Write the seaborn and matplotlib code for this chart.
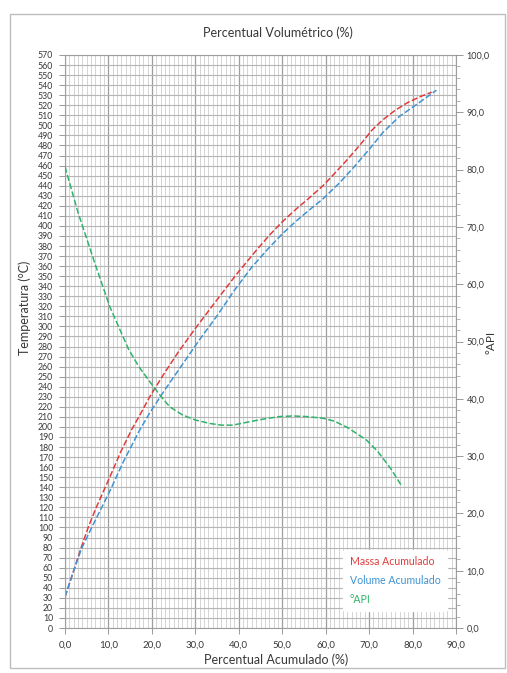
import matplotlib
matplotlib.use("Agg")
import matplotlib.pyplot as plt
import matplotlib.ticker as mticker
from matplotlib.patches import Rectangle
import seaborn as sns

# ── 資料 ──────────────────────────────────────────────────────────────────────
massa_pct = [0.0, 2.0, 3.8, 5.5, 7.3, 10.3, 12.8, 15.3, 17.5, 19.5, 22.5, 26.0, 30.0,
             34.9, 39.5, 44.1, 47.1, 50.0, 53.0, 56.0, 59.4, 62.0, 65.0, 68.0, 70.6,
             73.0, 76.0, 79.0, 82.0, 84.4]
massa_temp = [31, 57, 81, 102, 121, 150, 175, 197, 214, 230, 251, 274, 298,
              326, 352, 376, 391, 404, 416, 427, 440, 452, 466, 481, 495,
              505, 515, 523, 529, 533]

volume_pct = [0.0, 2.0, 3.8, 6.5, 10.3, 13.5, 17.2, 19.5, 23.0, 27.0, 31.0, 34.9,
              39.0, 43.0, 46.7, 50.0, 53.0, 56.0, 59.4, 63.0, 66.0, 70.0, 73.2,
              77.0, 81.0, 85.5]
volume_temp = [31, 57, 79, 103, 136, 166, 197, 214, 237, 262, 287, 310,
               336, 359, 377, 392, 404, 415, 427, 442, 456, 476, 493,
               509, 521, 535]

api_pct = [0.0, 3.0, 6.9, 10.3, 12.5, 14.6, 17.0, 19.5, 22.0, 24.1, 27.0, 30.0, 33.3,
           36.0, 38.6, 42.5, 46.0, 49.4, 52.5, 55.6, 59.4, 62.0, 65.0, 67.0, 69.4,
           72.0, 75.0, 77.4]
api_val = [80.5, 72.5, 63.6, 56.1, 52.3, 48.7, 45.6, 43.0, 40.5, 38.6, 37.2, 36.3, 35.7,
           35.4, 35.4, 36.0, 36.5, 36.9, 37.0, 36.9, 36.6, 36.1, 35.0, 34.0, 32.8,
           30.8, 27.8, 24.9]

RED = "#e03c3c"
BLUE = "#3f93d2"
GREEN = "#2fb36a"
TXT = "#383838"

sns.set_theme(style="white")
plt.rcParams["font.family"] = ["Lato", "DejaVu Sans"]

fig = plt.figure(figsize=(5.07, 6.73), dpi=100)
ax = fig.add_axes([65 / 507, 1 - 628 / 673, 391 / 507, 573 / 673])

# 外框
fig.patches.append(Rectangle((10 / 507, 1 - 668 / 673), 495 / 507, 654 / 673,
                             transform=fig.transFigure, fill=False,
                             edgecolor="#bdbdbd", linewidth=1.0))

dash = (4, 1.6)
sns.lineplot(x=massa_pct, y=massa_temp, sort=False, estimator=None, ax=ax,
             color=RED, linewidth=1.1, label="Massa Acumulado")
sns.lineplot(x=volume_pct, y=volume_temp, sort=False, estimator=None, ax=ax,
             color=BLUE, linewidth=1.1, label="Volume Acumulado")
for ln in ax.get_lines():
    ln.set_dashes(dash)

ax.set_xlim(0, 90)
ax.set_ylim(0, 570)
ax.xaxis.set_major_locator(mticker.MultipleLocator(10))
ax.xaxis.set_minor_locator(mticker.MultipleLocator(1))
ax.yaxis.set_major_locator(mticker.MultipleLocator(10))
ax.xaxis.set_major_formatter(mticker.FuncFormatter(lambda v, p: f"{v:.1f}".replace(".", ",")))
ax.grid(which="major", axis="x", color="#9e9e9e", linewidth=0.9)
ax.grid(which="minor", axis="x", color="#d4d4d4", linewidth=0.7)
ax.grid(which="major", axis="y", color="#b5b5b5", linewidth=0.8)
ax.set_axisbelow(True)
ax.tick_params(axis="y", labelsize=6.3, length=4, width=0.6, color="#888888",
               left=True, pad=4.5, labelcolor=TXT)
ax.tick_params(axis="x", which="major", labelsize=7.0, length=4, width=0.6,
               color="#888888", bottom=True, pad=5, labelcolor=TXT)
for s in ax.spines.values():
    s.set_color("#9e9e9e")
    s.set_linewidth(0.8)
ax.set_xlabel("")
ax.set_ylabel("")

# 右軸：°API
ax2 = ax.twinx()
sns.lineplot(x=api_pct, y=api_val, sort=False, estimator=None, ax=ax2,
             color=GREEN, linewidth=1.1, label="°API")
ax2.get_lines()[0].set_dashes(dash)
ax2.set_ylim(0, 100)
ax2.yaxis.set_major_locator(mticker.MultipleLocator(10))
ax2.yaxis.set_minor_locator(mticker.MultipleLocator(2))
ax2.yaxis.set_major_formatter(mticker.FuncFormatter(lambda v, p: f"{v:.1f}".replace(".", ",")))
ax2.tick_params(axis="y", which="major", labelsize=6.6, length=5, width=0.6,
                color="#888888", right=True, pad=2.5, labelcolor=TXT)
ax2.tick_params(axis="y", which="minor", length=3, width=0.5, color="#999999", right=True)
ax2.grid(False)
ax2.set_ylabel("")
for s in ax2.spines.values():
    s.set_visible(False)

# 圖例（僅文字、彩色）
h1, l1 = ax.get_legend_handles_labels()
h2, l2 = ax2.get_legend_handles_labels()
ax.get_legend().remove()
leg = ax2.legend(h1 + h2, l1 + l2, loc="lower right",
                 bbox_to_anchor=(0.99, 0.02), handlelength=0, handletextpad=0,
                 labelcolor="linecolor", fontsize=7.6, frameon=True,
                 facecolor="white", edgecolor="white", framealpha=1,
                 labelspacing=0.75, borderpad=0.6)
for h in leg.legend_handles:
    h.set_visible(False)

# 標題與軸名
fig.text(278 / 507, 1 - 33 / 673, "Percentual Volumétrico (%)", ha="center",
         va="center", fontsize=9.0, color=TXT)
fig.text(276 / 507, 1 - 660 / 673, "Percentual Acumulado (%)", ha="center",
         va="center", fontsize=9.0, color=TXT)
fig.text(25 / 507, 1 - 308 / 673, "Temperatura (°C)", ha="center", va="center",
         rotation=90, fontsize=9.0, color=TXT)
fig.text(491 / 507, 1 - 342 / 673, "°API", ha="center", va="center",
         rotation=90, fontsize=8.5, color=TXT)

fig.savefig("out.png", dpi=100)
